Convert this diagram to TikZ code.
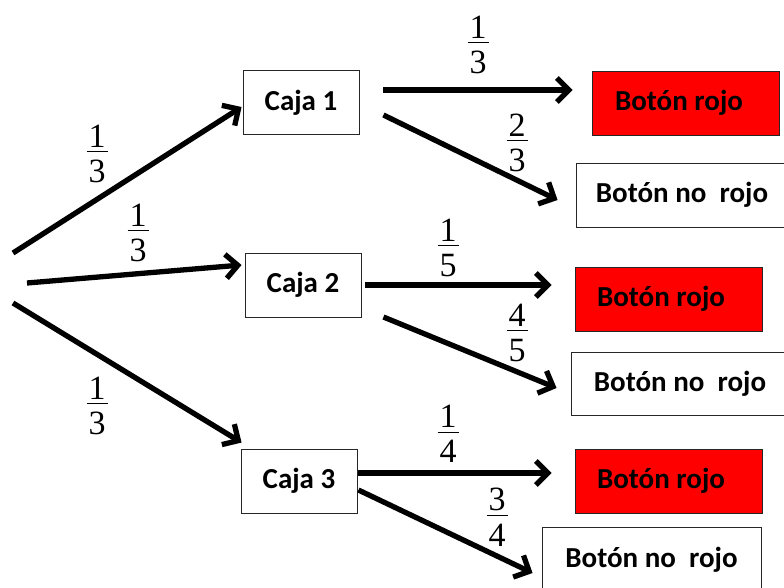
\documentclass[tikz,border=0pt]{standalone}
\usepackage{fontspec}
\setmainfont{Liberation Serif}
\newfontfamily\boxfont{Carlito}
\usetikzlibrary{arrows.meta,calc}
\newcommand\fr[2]{\vbox{\hbox to 21pt{\hss#1\hss}\kern4pt\hrule height 1pt\kern8pt\hbox to 21pt{\hss#2\hss}}}
\begin{document}
\begin{tikzpicture}[x=1pt,y=-1pt,
  box/.style={draw=black!85,line width=0.9pt,minimum height=64pt,inner sep=0pt,
    font=\boxfont\bfseries\fontsize{29}{35}\selectfont},
  redbox/.style={fill={rgb,255:red,255;green,0;blue,0}},
  arr/.style={line width=5.3pt,-{Straight Barb[length=12pt,width=24pt]}},
  frac/.style={font=\fontsize{34}{40}\selectfont,inner sep=0pt}]
\useasboundingbox (0,0) rectangle (784,587);
\clip (0,0) rectangle (784,587);
% boxes
\node[box,minimum width=116pt] (c1) at (301,102.5) {Caja 1};
\node[box,minimum width=116pt] (c2) at (303,285) {Caja 2};
\node[box,minimum width=116pt] (c3) at (299,481) {Caja 3};
\node[box,redbox,minimum width=187pt] (r1) at (685.5,103) {Botón rojo\kern13pt};
\node[box,minimum width=212pt] (n1) at (682,195) {Botón no~~rojo};
\node[box,redbox,minimum width=187pt] (r2) at (668.5,299) {Botón rojo\kern15pt};
\node[box,minimum width=218pt,minimum height=63pt] (n2) at (680,383.5) {Botón no~~rojo};
\node[box,redbox,minimum width=187pt] (r3) at (668.5,481) {Botón rojo\kern15pt};
\node[box,minimum width=219pt,minimum height=65pt] (n3) at (651.5,559.5) {Botón no~~rojo};
% roots
\coordinate (o1) at (13,253);
\coordinate (o2) at (27,283);
\coordinate (o3) at (13,303);
% arrows
\draw[arr] (o1) -- ($(c1.west)+(-1,4.5)$);
\draw[arr] (o2) -- ($(c2.west)+(-3,-20)$);
\draw[arr] (o3) -- ($(c3.north west)+(1,-6)$);
\draw[arr] ($(c1.east)+(24,-12.5)$) -- ($(r1.west)+(-19,-13)$);
\draw[arr] ($(c1.east)+(24,12.5)$) -- ($(n1.west)+(-18,5)$);
\draw[arr] ($(c2.east)+(4,0)$) -- ($(r2.west)+(-23,-14)$);
\draw[arr] ($(c2.east)+(22,32)$) -- ($(n2.west)+(-14,4.5)$);
\draw[arr] ($(c3.east)+(1,-8)$) -- ($(r3.west)+(-23,-8)$);
\draw[arr] ($(c3.east)+(1,9)$) -- ($(n3.west)+(-9,13.5)$);
% fractions
\node[frac] (f1) at (97,154) {\fr{1}{3}};
\node[frac] (f2) at (138,233) {\fr{1}{3}};
\node[frac] (f3) at (97,406) {\fr{1}{3}};
\node[frac] (f4) at (478,45) {\fr{1}{3}};
\node[frac] (f5) at (517,143) {\fr{2}{3}};
\node[frac] (f6) at (448,248) {\fr{1}{5}};
\node[frac] (f7) at (517,333) {\fr{4}{5}};
\node[frac] (f8) at (448,434) {\fr{1}{4}};
\node[frac] (f9) at (497,517) {\fr{3}{4}};
\end{tikzpicture}
\end{document}
